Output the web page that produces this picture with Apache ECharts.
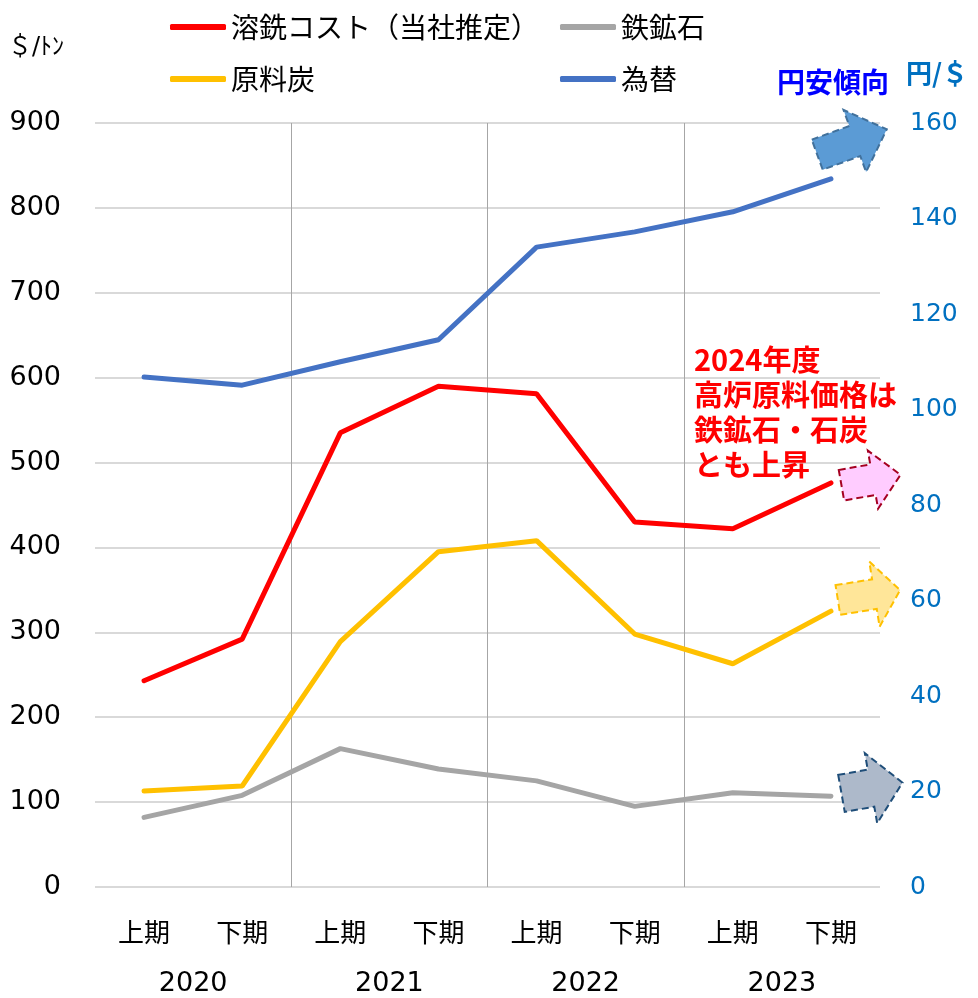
<!DOCTYPE html>
<html>
<head>
<meta charset="utf-8">
<script src="https://cdn.jsdelivr.net/npm/echarts@6/dist/echarts.min.js"></script>
<style>html,body{margin:0;padding:0;background:#fff}#c{width:978px;height:998px}</style>
</head>
<body>
<div id="c"></div>
<script>
// ---- data ----
var halves = ['上期','下期','上期','下期','上期','下期','上期','下期'];
var years = ['2020','2021','2022','2023'];
var hotMetalCost = [243, 292, 535, 590, 581, 430, 422, 476];
var ironOre = [82, 108, 163, 139, 125, 95, 111, 107];
var cokingCoal = [113, 119, 289, 395, 408, 298, 263, 325];
var fxRate = [106.8, 105.1, 110.0, 114.6, 134.0, 137.2, 141.4, 148.3];
var names = ['溶銑コスト（当社推定）','鉄鉱石','原料炭','為替'];

var FONT = '"DejaVu Sans","Noto Sans CJK JP",sans-serif';
var CJK = '"Noto Sans CJK JP",sans-serif';

function arrow(cx, cy, L, hb, hh, headLen, angDeg, fill, stroke) {
  var a = angDeg * Math.PI / 180, c = Math.cos(a), s = Math.sin(a);
  var hx = L / 2 - headLen;
  var pts = [[-L/2,-hb],[hx,-hb],[hx,-hh],[L/2,0],[hx,hh],[hx,hb],[-L/2,hb]];
  var out = pts.map(function(p){ return [cx + p[0]*c - p[1]*s, cy + p[0]*s + p[1]*c]; });
  return { type:'polygon', z: 10, shape:{points: out},
    style:{fill: fill, stroke: stroke, lineWidth: 2, lineDash:[7,4]} };
}

var chart = echarts.init(document.getElementById('c'));
function lineSeries(name, data, color, yIdx) {
  return { name: name, type:'line', data: data, yAxisIndex: yIdx, xAxisIndex: 0,
    symbol:'none', lineStyle:{color: color, width: 5, cap:'round'}, itemStyle:{color: color}, z: 5 };
}
chart.setOption({
  animation: false,
  grid: { left: 95, right: 98, top: 123, bottom: 111 },
  legend: [
    { data:[names[0], names[2]], orient:'vertical', left:165, top:7, itemWidth:56, itemHeight:6, icon:'roundRect', itemGap:22,
      textStyle:{fontSize:28, fontFamily:CJK, color:'#000', lineHeight:30} },
    { data:[names[1], names[3]], orient:'vertical', left:555, top:7, itemWidth:56, itemHeight:6, icon:'roundRect', itemGap:22,
      textStyle:{fontSize:28, fontFamily:CJK, color:'#000', lineHeight:30} }
  ],
  xAxis: [
    { type:'category', data: halves, boundaryGap:true,
      axisLine:{show:false}, axisTick:{show:false}, splitLine:{show:false},
      axisLabel:{fontSize:26, fontFamily:CJK, color:'#000', margin:32} },
    { type:'category', data: years, boundaryGap:true, position:'bottom',
      axisLine:{show:false}, axisTick:{show:false},
      splitLine:{show:true, showMinLine:false, showMaxLine:false, lineStyle:{color:'#a6a6a6', width:1}},
      axisLabel:{fontSize:27, fontFamily:FONT, color:'#000', margin:83} }
  ],
  yAxis: [
    { type:'value', min:0, max:900, interval:100,
      axisLine:{show:false}, axisTick:{show:false},
      splitLine:{lineStyle:{color:'#d9d9d9', width:2}},
      axisLabel:{fontSize:27, fontFamily:FONT, color:'#000', margin:34} },
    { type:'value', min:0, max:160, interval:20, position:'right',
      axisLine:{show:false}, axisTick:{show:false}, splitLine:{show:false},
      axisLabel:{fontSize:25, fontFamily:FONT, color:'#0070c0', margin:30} }
  ],
  series: [
    lineSeries(names[0], hotMetalCost, '#ff0000', 0),
    lineSeries(names[1], ironOre, '#a5a5a5', 0),
    lineSeries(names[2], cokingCoal, '#ffc000', 0),
    lineSeries(names[3], fxRate, '#4472c4', 1)
  ],
  graphic: [
    { type:'text', left:8, top:36, style:{text:'＄/ﾄﾝ', font:'24px '+FONT, fill:'#000'} },
    { type:'text', left:906, top:60, style:{text:'円/＄', font:'bold 26px '+CJK, fill:'#0070c0'} },
    { type:'text', left:777, top:68, style:{text:'円安傾向', font:'bold 28px '+CJK, fill:'#0000ff'} },
    { type:'text', left:694, top:342, z:10, style:{text:'2024年度\n高炉原料価格は\n鉄鉱石・石炭\nとも上昇', font:'bold 29px '+CJK, fill:'#ff0000', lineHeight:35} },
    arrow(852, 142, 74, 16, 33, 34, -20, '#5b9bd5', '#41719c'),
    arrow(871, 480, 60, 15.5, 29.5, 28, -10, '#ffccff', '#a50021'),
    arrow(869, 595, 63, 15, 33, 26, -9, '#ffe699', '#ffc000'),
    arrow(872, 788, 62, 18.8, 35.6, 32, -10, '#adb9ca', '#1f4e79')
  ]
});
</script>
</body>
</html>
